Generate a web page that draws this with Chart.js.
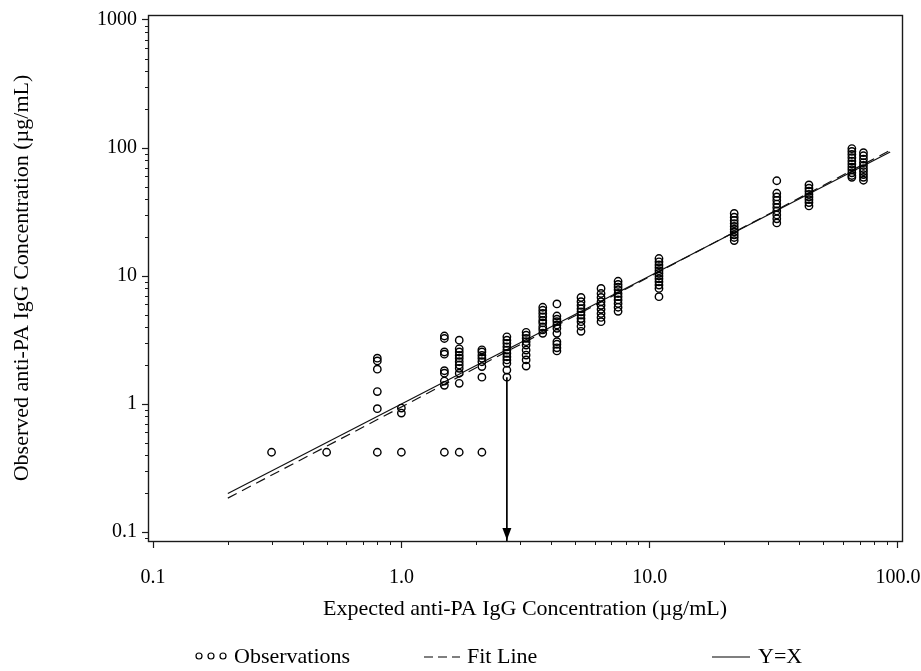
<!DOCTYPE html>
<html>
<head>
<meta charset="utf-8">
<script src="https://cdn.jsdelivr.net/npm/chart.js@4.4.1/dist/chart.umd.min.js"></script>
<style>
  html, body { margin: 0; padding: 0; background: #fff; }
  canvas { display: block; }
</style>
</head>
<body>
<canvas id="chart" width="921" height="671"></canvas>
<script>
// expected concentration levels and the observed values read at each level
const expectedLevels = [0.3, 0.5, 0.8, 1.0, 1.49, 1.71, 2.11, 2.66, 3.18, 3.71, 4.23, 5.29, 6.37, 7.46, 10.9, 21.9, 32.5, 43.8, 65.2, 72.6];
const observedByLevel = [
  [0.42],
  [0.42],
  [2.28, 2.17, 1.87, 1.25, 0.92, 0.42],
  [0.93, 0.85, 0.42],
  [3.4, 3.25, 2.55, 2.45, 1.82, 1.74, 1.51, 1.4, 0.42],
  [3.15, 2.7, 2.55, 2.4, 2.28, 2.14, 2.02, 1.9, 1.74, 1.45, 0.42],
  [2.65, 2.55, 2.4, 2.28, 2.14, 1.96, 1.62, 0.42],
  [3.35, 3.15, 2.98, 2.8, 2.64, 2.49, 2.34, 2.21, 2.08, 1.84, 1.62],
  [3.63, 3.45, 3.26, 3.07, 2.89, 2.64, 2.41, 2.21, 1.98],
  [5.7, 5.4, 5.1, 4.8, 4.5, 4.3, 4.0, 3.8, 3.57],
  [6.05, 4.87, 4.6, 4.4, 4.15, 3.9, 3.57, 3.07, 2.93, 2.75, 2.6],
  [6.8, 6.3, 5.9, 5.55, 5.25, 4.95, 4.65, 4.4, 4.05, 3.7],
  [8.0, 7.3, 6.8, 6.3, 5.9, 5.5, 5.1, 4.75, 4.4],
  [9.1, 8.6, 8.2, 7.8, 7.3, 6.9, 6.5, 6.1, 5.7, 5.3],
  [13.7, 12.9, 12.2, 11.6, 11.0, 10.5, 10.0, 9.5, 9.0, 8.5, 8.0, 6.9],
  [30.8, 28.8, 27.2, 25.7, 24.4, 23.2, 22.1, 21.0, 20.0, 18.9],
  [55.5, 44.3, 41.5, 39, 36.5, 34.3, 32.2, 30, 28, 26],
  [51.5, 48.5, 46, 43.5, 41.5, 39.5, 37.5, 35.3],
  [99, 94, 89, 84, 79, 75, 71, 67.5, 64, 61, 59],
  [92, 87, 82, 77, 73, 69, 65.5, 62, 59, 56]
];

// fit line and Y=X line end points
const fitLineX = [0.2, 93];
const fitLineY = [0.184, 96];
const identityX = [0.2, 93];

// arrow marking the expected level 2.66 down to the x axis
const arrowX = 2.66;
const arrowTopY = 1.62;

const xTickValues = [0.1, 1, 10, 100];
const xTickLabels = ['0.1', '1.0', '10.0', '100.0'];
const yTickValues = [0.1, 1, 10, 100, 1000];
const yTickLabels = ['0.1', '1', '10', '100', '1000'];
const xRange = [0.0954, 103.8];
const yRange = [0.0851, 1094];

const legendItems = ['Observations', 'Fit Line', 'Y=X'];

const FONT = "'Liberation Serif', 'Times New Roman', serif";
const INK = '#000';

let obsPoints = [];
expectedLevels.forEach((x, i) => {
  observedByLevel[i].forEach(y => obsPoints.push({ x: x, y: y }));
});

function minorValues(lo, hi) {
  let out = [];
  for (let e = -2; e <= 3; e++) {
    for (let m = 2; m <= 9; m++) {
      let v = m * Math.pow(10, e);
      if (v > lo && v < hi) out.push(v);
    }
  }
  return out;
}

const framePlugin = {
  id: 'frame',
  afterDraw(chart) {
    const { ctx, chartArea: a, scales } = chart;
    ctx.save();
    ctx.strokeStyle = '#1a1a1a';
    ctx.lineWidth = 1.4;
    ctx.strokeRect(Math.round(a.left) + 0.5, Math.round(a.top) + 0.5, Math.round(a.right - a.left), Math.round(a.bottom - a.top));

    // minor ticks
    ctx.lineWidth = 1;
    ctx.beginPath();
    minorValues(xRange[0], xRange[1]).forEach(v => {
      const px = Math.round(scales.x.getPixelForValue(v)) + 0.5;
      ctx.moveTo(px, a.bottom);
      ctx.lineTo(px, a.bottom + 4);
    });
    minorValues(yRange[0], yRange[1]).forEach(v => {
      const py = Math.round(scales.y.getPixelForValue(v)) + 0.5;
      ctx.moveTo(a.left, py);
      ctx.lineTo(a.left - 3, py);
    });
    ctx.stroke();

    // arrow head
    const ax = scales.x.getPixelForValue(arrowX);
    const tip = scales.y.getPixelForValue(yRange[0]) - 1;
    ctx.fillStyle = INK;
    ctx.beginPath();
    ctx.moveTo(ax, tip);
    ctx.lineTo(ax - 4.5, tip - 12);
    ctx.lineTo(ax + 4.5, tip - 12);
    ctx.closePath();
    ctx.fill();

    // legend
    const ly = 657;
    ctx.font = '22px ' + FONT;
    ctx.textBaseline = 'middle';
    ctx.textAlign = 'left';
    ctx.strokeStyle = INK;
    ctx.lineWidth = 1.2;
    [199, 211, 223].forEach(cx => {
      ctx.beginPath();
      ctx.arc(cx, ly - 1, 3, 0, Math.PI * 2);
      ctx.stroke();
    });
    ctx.fillText(legendItems[0], 234, ly);
    ctx.beginPath();
    ctx.setLineDash([9, 5]);
    ctx.moveTo(424, ly);
    ctx.lineTo(460, ly);
    ctx.stroke();
    ctx.setLineDash([]);
    ctx.fillText(legendItems[1], 467, ly);
    ctx.beginPath();
    ctx.moveTo(712, ly);
    ctx.lineTo(750, ly);
    ctx.stroke();
    ctx.fillText(legendItems[2], 758, ly);
    ctx.restore();
  }
};

new Chart(document.getElementById('chart'), {
  type: 'scatter',
  data: {
    datasets: [
      {
        label: 'Observations',
        data: obsPoints,
        showLine: false,
        pointStyle: 'circle',
        pointRadius: 3.7,
        pointBorderWidth: 1.4,
        pointBorderColor: INK,
        pointBackgroundColor: 'rgba(0,0,0,0)',
        order: 0
      },
      {
        label: 'Fit Line',
        data: fitLineX.map((x, i) => ({ x: x, y: fitLineY[i] })),
        showLine: true,
        borderColor: '#111',
        borderWidth: 1.2,
        borderDash: [10, 6],
        pointRadius: 0,
        order: 2
      },
      {
        label: 'Y=X',
        data: identityX.map(x => ({ x: x, y: x })),
        showLine: true,
        borderColor: '#111',
        borderWidth: 1.2,
        pointRadius: 0,
        order: 1
      },
      {
        label: 'arrow',
        data: [{ x: arrowX, y: arrowTopY }, { x: arrowX, y: yRange[0] }],
        showLine: true,
        borderColor: INK,
        borderWidth: 1.7,
        pointRadius: 0,
        order: 1
      }
    ]
  },
  options: {
    responsive: false,
    animation: false,
    devicePixelRatio: 1,
    layout: { padding: { top: 15, right: 19, left: 0, bottom: 0 } },
    plugins: {
      legend: { display: false },
      tooltip: { enabled: false }
    },
    scales: {
      x: {
        type: 'logarithmic',
        position: 'bottom',
        min: xRange[0],
        max: xRange[1],
        afterBuildTicks: s => { s.ticks = xTickValues.map(v => ({ value: v })); },
        afterFit: s => { s.height = 130; s.paddingLeft = 0; s.paddingRight = 0; },
        ticks: {
          autoSkip: false,
          maxRotation: 0,
          padding: 18,
          color: INK,
          font: { family: FONT, size: 20 },
          callback: (v, i) => xTickLabels[i]
        },
        grid: { display: true, drawOnChartArea: false, drawTicks: true, tickLength: 7, tickColor: '#1a1a1a', tickWidth: 1.2 },
        border: { display: false },
        title: {
          display: true,
          text: 'Expected anti-PA IgG Concentration (µg/mL)',
          color: INK,
          font: { family: FONT, size: 22 },
          padding: { top: 0, bottom: 49 }
        }
      },
      y: {
        type: 'logarithmic',
        position: 'left',
        min: yRange[0],
        max: yRange[1],
        afterBuildTicks: s => { s.ticks = yTickValues.map(v => ({ value: v })); },
        afterFit: s => { s.width = 148; s.paddingTop = 0; s.paddingBottom = 0; },
        ticks: {
          autoSkip: false,
          padding: 5,
          color: INK,
          font: { family: FONT, size: 20 },
          callback: (v, i) => yTickLabels[i]
        },
        grid: { display: true, drawOnChartArea: false, drawTicks: true, tickLength: 6, tickColor: '#1a1a1a', tickWidth: 1.2 },
        border: { display: false },
        title: {
          display: true,
          text: 'Observed anti-PA IgG Concentration (µg/mL)',
          color: INK,
          font: { family: FONT, size: 22 },
          padding: { top: 9, bottom: 0 }
        }
      }
    }
  },
  plugins: [framePlugin]
});
</script>
</body>
</html>
